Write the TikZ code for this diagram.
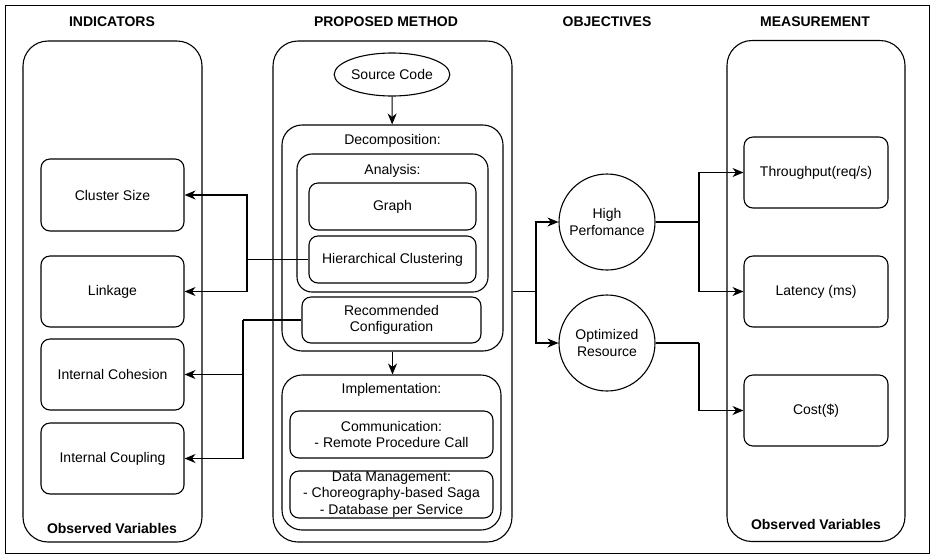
\documentclass[tikz,border=0pt]{standalone}
\usepackage{fontspec}
\setmainfont{Liberation Sans}
\usetikzlibrary{arrows.meta,shapes.geometric}

\begin{document}
\begin{tikzpicture}[x=1pt,y=-1pt,line width=1.1pt,
		font=\fontsize{14}{16.5}\selectfont,
		head/.style={font=\fontsize{14}{16.5}\selectfont\bfseries},
		panel/.style={draw,rounded corners=25pt,minimum width=#1,minimum height=501pt},
		group/.style={draw,rounded corners=20pt},
		box/.style={draw,rounded corners=9pt,align=center,inner sep=0pt},
		goal/.style={draw,circle,minimum size=96pt,align=center,inner sep=0pt},
		arr/.style={-{Stealth[length=11pt,width=9pt,inset=3.5pt]}}]
		\useasboundingbox (0,0) rectangle (936,558);
		\draw[line width=1pt] (5,5) rectangle (929,553);
		\node[head] (tind) at (112,22) {INDICATORS};
		\node[head] (tpm) at (386,22) {PROPOSED METHOD};
		\node[head] (tobj) at (607,22) {OBJECTIVES};
		\node[head] (tmea) at (815,22) {MEASUREMENT};
		% indicators
		\node[panel=179pt] (ind) at (112.5,291.5) {};
		\node[head] (ovl) at (112,528) {Observed Variables};
		\node[box,minimum width=143pt,minimum height=72pt] (cluster) at (112.5,195) {Cluster Size};
		\node[box,minimum width=143pt,minimum height=71pt] (link) at (112.5,291.5) {Linkage};
		\node[box,minimum width=143pt,minimum height=71pt] (coh) at (112.5,374.5) {Internal Cohesion};
		\node[box,minimum width=143pt,minimum height=71pt] (coup) at (112.5,458.5) {Internal Coupling};
		% proposed method
		\node[panel=239pt] (pm) at (392.5,291.5) {};
		\node[draw,ellipse,minimum width=107pt,minimum height=43pt,inner sep=0pt] (src) at (392,74.5) {Source Code};
		\node[group,minimum width=221pt,minimum height=226pt] (dec) at (392.5,238) {};
		\node (tdec) at (392.5,141) {Decomposition:};
		\node[group,rounded corners=15pt,minimum width=191pt,minimum height=138pt] (ana) at (392.5,223) {};
		\node (tana) at (392.5,171) {Analysis:};
		\node[box,minimum width=167pt,minimum height=47pt] (graph) at (392.5,206.5) {Graph};
		\node[box,minimum width=167pt,minimum height=47pt] (hc) at (392.5,259.5) {Hierarchical Clustering};
		\node[box,minimum width=179pt,minimum height=46pt] (rc) at (391.5,320) {Recommended\\Configuration};
		\node[group,minimum width=219pt,minimum height=155pt] (impl) at (391.5,452.5) {};
		\node (timpl) at (391.5,390) {Implementation:};
		\node[box,minimum width=203pt,minimum height=47pt] (comm) at (391.5,434.5) {Communication:\\- Remote Procedure Call};
		\node[box,minimum width=203pt,minimum height=47pt] (data) at (391.5,494.5) {Data Management:\\- Choreography-based Saga\\- Database per Service};
		\draw[arr] (src) -- (dec);
		\draw[arr] (dec.south) -- (dec.south |- impl.north);
		% objectives
		\node[goal] (hp) at (607,222) {High\\Perfomance};
		\node[goal] (or) at (607,343) {Optimized\\Resource};
		% measurement
		\node[panel=178pt] (mea) at (816,291) {};
		\node[head] (ovr) at (816,524) {Observed Variables};
		\node[box,minimum width=144pt,minimum height=71pt] (thr) at (816,172.5) {Throughput(req/s)};
		\node[box,minimum width=144pt,minimum height=71pt] (lat) at (816,291.5) {Latency (ms)};
		\node[box,minimum width=144pt,minimum height=71pt] (cost) at (816,410.5) {Cost(\$)};
		% connectors
		\coordinate (jhc) at (247,259.5);
		\coordinate (jrc) at (243,320);
		\coordinate (jpm) at (536,291.5);
		\coordinate (jhp) at (699,222);
		\coordinate (jor) at (699,343);
		\draw (hc.west) -- (jhc);
		\draw[arr] (jhc) |- (cluster.east);
		\draw[arr] (jhc) |- (link.east);
		\draw (rc.west) -- (jrc);
		\draw[arr] (jrc) |- (coh.east);
		\draw[arr] (jrc) |- (coup.east);
		\draw (pm.east) -- (jpm);
		\draw[arr] (jpm) |- (hp.west);
		\draw[arr] (jpm) |- (or.west);
		\draw (hp.east) -- (jhp);
		\draw[arr] (jhp) |- (thr.west);
		\draw[arr] (jhp) |- (lat.west);
		\draw (or.east) -- (jor);
		\draw[arr] (jor) |- (cost.west);
	\end{tikzpicture}
\end{document}
